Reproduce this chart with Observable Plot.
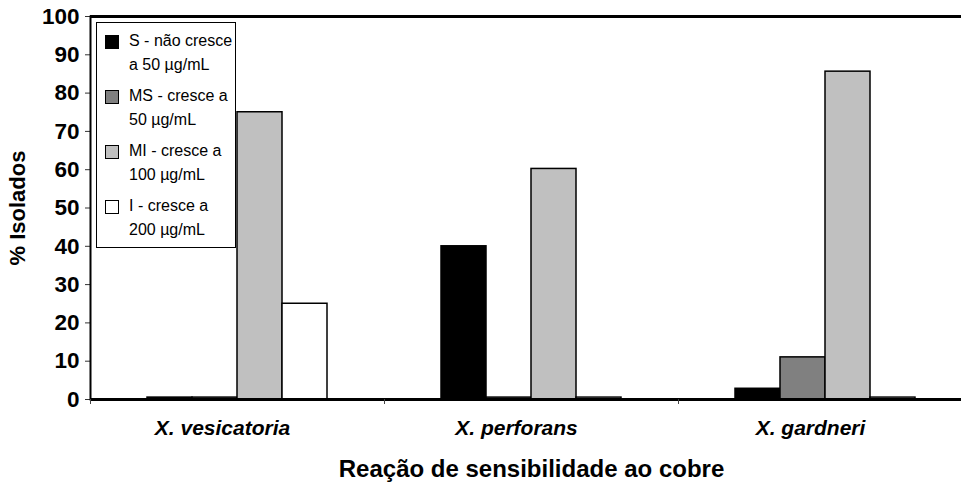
<!DOCTYPE html>
<html><head><meta charset="utf-8">
<script src="https://cdn.jsdelivr.net/npm/d3@7"></script>
<script src="https://cdn.jsdelivr.net/npm/@observablehq/plot@0.6"></script>
<style>
body{margin:0;background:#fff;}
#wrap{position:relative;width:961px;height:488px;overflow:hidden;font-family:"Liberation Sans",Arial,sans-serif;}
#legend{position:absolute;left:96px;top:22px;width:140px;height:226px;border:1px solid #000;background:#fff;box-sizing:border-box;}
.item{position:absolute;left:0;width:100%;height:50px;}
.sw{position:absolute;left:8px;top:6px;width:14px;height:14px;border:1px solid #000;box-sizing:border-box;}
.lab{position:absolute;left:32px;top:0;font-size:16px;line-height:24px;color:#000;white-space:nowrap;}
svg [aria-label="y-axis tick label"]{font-family:"Liberation Sans",Arial,sans-serif;font-size:22.5px;font-weight:bold;}
svg [aria-label="y-axis label"]{font-family:"Liberation Sans",Arial,sans-serif;font-size:22px;font-weight:bold;}
svg [aria-label="fx-axis tick label"]{font-family:"Liberation Sans",Arial,sans-serif;font-size:21px;font-weight:bold;font-style:italic;}
svg [aria-label="fx-axis label"]{font-family:"Liberation Sans",Arial,sans-serif;font-size:24px;font-weight:bold;}
</style>
</head><body>
<div id="wrap"></div>
<script>
const species = ["X. vesicatoria", "X. perforans", "X. gardneri"];
const classes = ["S", "MS", "MI", "I"];
const classLabels = [
  ["S - não cresce", "a 50 µg/mL"],
  ["MS - cresce a", "50 µg/mL"],
  ["MI - cresce a", "100 µg/mL"],
  ["I - cresce a", "200 µg/mL"]
];
const colors = ["#000000", "#808080", "#c0c0c0", "#ffffff"];
const valuesS  = [0.5, 40, 2.8];
const valuesMS = [0.5, 0.5, 11];
const valuesMI = [75, 60.2, 85.6];
const valuesI  = [25, 0.5, 0.5];
const yTicks = [0, 10, 20, 30, 40, 50, 60, 70, 80, 90, 100];
const yLabel = "% Isolados";
const xLabel = "Reação de sensibilidade ao cobre";

const series = [valuesS, valuesMS, valuesMI, valuesI];
const data = species.flatMap((sp, i) => classes.map((c, j) => ({species: sp, cls: c, value: series[j][i]})));

const W = 961, H = 488, mL = 90, mR = -11, mT = 16, mB = 89;
const bandW = (W - mL - mR) / species.length;

const plot = Plot.plot({
  width: W, height: H,
  marginLeft: mL, marginRight: mR, marginTop: mT, marginBottom: mB,
  style: {fontFamily: '"Liberation Sans", Arial, sans-serif', background: "#fff", color: "#000"},
  fx: {domain: species, padding: 0},
  x: {domain: classes, paddingInner: 0, paddingOuter: 1.25, axis: null},
  y: {domain: [0, 100], axis: null},
  color: {domain: classes, range: colors},
  marks: [
    Plot.barY(data, {fx: "species", x: "cls", y: "value", fill: "cls", stroke: "#000", strokeWidth: 1.5}),
    Plot.ruleY([0], {strokeWidth: 3}),
    Plot.ruleY([100], {strokeWidth: 3}),
    Plot.axisY({anchor: "left", ticks: yTicks, tickSize: 5, tickPadding: 6, stroke: "#333",
      label: yLabel, labelAnchor: "center", labelArrow: "none", labelOffset: 81}),
    Plot.frame({anchor: "left", strokeWidth: 2, fx: () => species[0]}),
    Plot.axisFx({anchor: "bottom", tickSize: 5, tickFormat: () => "", label: null, dx: -bandW / 2, stroke: "#444"}),
    Plot.axisFx({anchor: "bottom", tickSize: 0, tickPadding: 21, label: null, dx: -15}),
    Plot.axisFx({anchor: "bottom", tickSize: 0, tickFormat: () => "", label: xLabel, labelAnchor: "center", labelOffset: 77})
  ]
});
document.getElementById("wrap").appendChild(plot);

const legend = document.createElement("div");
legend.id = "legend";
classes.forEach((c, i) => {
  const item = document.createElement("div");
  item.className = "item";
  item.style.top = (6 + 55 * i) + "px";
  const sw = document.createElement("div");
  sw.className = "sw";
  sw.style.background = colors[i];
  const lab = document.createElement("div");
  lab.className = "lab";
  lab.innerHTML = classLabels[i].join("<br>");
  item.appendChild(sw); item.appendChild(lab);
  legend.appendChild(item);
});
document.getElementById("wrap").appendChild(legend);
</script>
</body></html>
